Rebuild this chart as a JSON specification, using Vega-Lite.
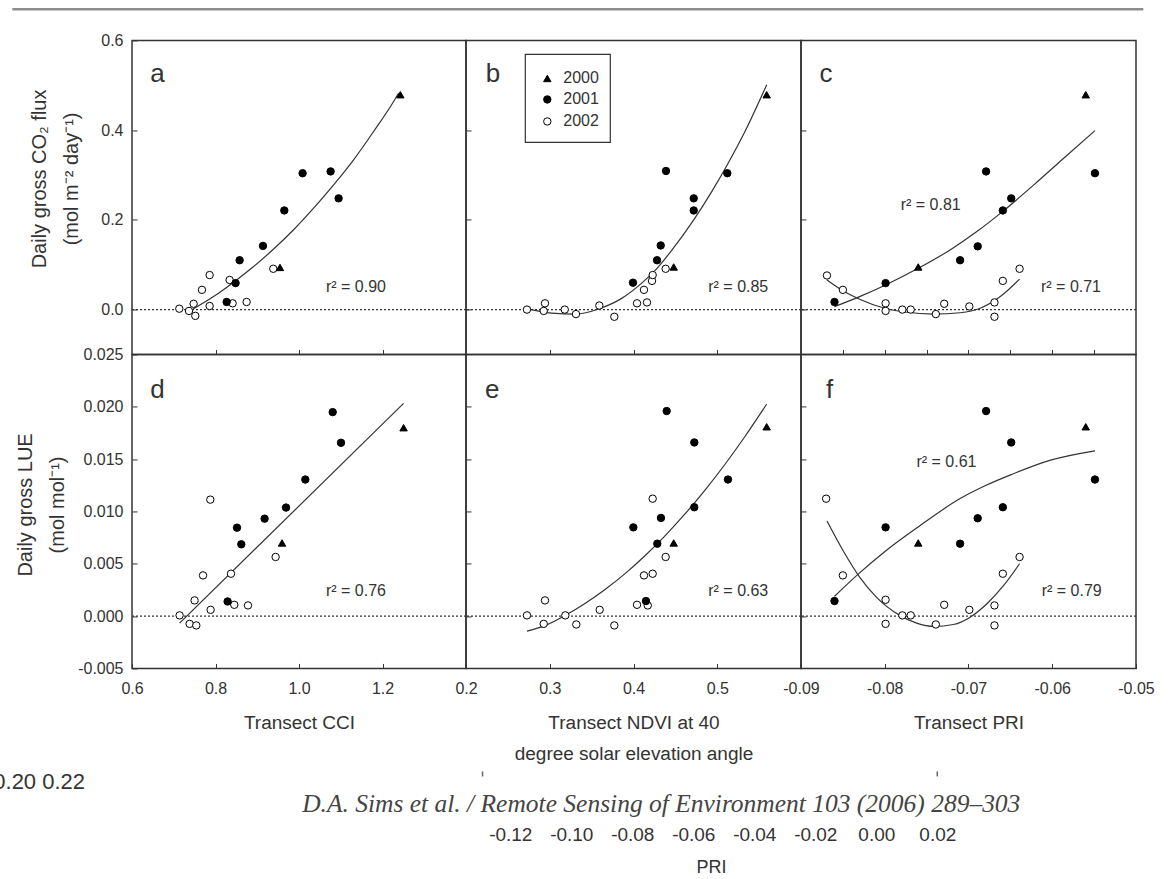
{
  "$schema": "https://vega.github.io/schema/vega-lite/v6.json",
  "background": "white",
  "padding": {"left": -7, "top": 6.45, "right": 0, "bottom": 0},
  "columns": 3,
  "spacing": 0,
  "bounds": "flush",
  "datasets": {
    "pts": [
      {"panel":"a","year":"2002","x":0.9384,"y":0.091},{"panel":"a","year":"2002","x":0.7859,"y":0.077},{"panel":"a","year":"2002","x":0.8338,"y":0.066},{"panel":"a","year":"2002","x":0.7676,"y":0.044},{"panel":"a","year":"2002","x":0.7859,"y":0.008},{"panel":"a","year":"2002","x":0.8410,"y":0.014},{"panel":"a","year":"2002","x":0.8745,"y":0.017},{"panel":"a","year":"2002","x":0.7476,"y":0.013},{"panel":"a","year":"2002","x":0.7133,"y":0.002},{"panel":"a","year":"2002","x":0.7365,"y":-0.003},{"panel":"a","year":"2002","x":0.7516,"y":-0.014},
      {"panel":"a","year":"2001","x":1.0086,"y":0.304},{"panel":"a","year":"2001","x":1.0757,"y":0.308},{"panel":"a","year":"2001","x":1.0949,"y":0.248},{"panel":"a","year":"2001","x":0.9648,"y":0.221},{"panel":"a","year":"2001","x":0.9137,"y":0.142},{"panel":"a","year":"2001","x":0.8578,"y":0.110},{"panel":"a","year":"2001","x":0.8481,"y":0.059},{"panel":"a","year":"2001","x":0.8267,"y":0.017},
      {"panel":"a","year":"2000","x":1.2427,"y":0.479},{"panel":"a","year":"2000","x":0.9544,"y":0.094},

      {"panel":"b","year":"2002","x":0.4384,"y":0.091},{"panel":"b","year":"2002","x":0.4221,"y":0.064},{"panel":"b","year":"2002","x":0.4229,"y":0.077},{"panel":"b","year":"2002","x":0.4125,"y":0.044},{"panel":"b","year":"2002","x":0.4042,"y":0.014},{"panel":"b","year":"2002","x":0.4161,"y":0.016},{"panel":"b","year":"2002","x":0.2728,"y":0.0},{"panel":"b","year":"2002","x":0.2943,"y":0.014},{"panel":"b","year":"2002","x":0.2928,"y":-0.003},{"panel":"b","year":"2002","x":0.3179,"y":0.0},{"panel":"b","year":"2002","x":0.3313,"y":-0.010},{"panel":"b","year":"2002","x":0.3592,"y":0.009},{"panel":"b","year":"2002","x":0.3771,"y":-0.016},
      {"panel":"b","year":"2001","x":0.4388,"y":0.309},{"panel":"b","year":"2001","x":0.5120,"y":0.304},{"panel":"b","year":"2001","x":0.4719,"y":0.248},{"panel":"b","year":"2001","x":0.4719,"y":0.221},{"panel":"b","year":"2001","x":0.4325,"y":0.143},{"panel":"b","year":"2001","x":0.4281,"y":0.110},{"panel":"b","year":"2001","x":0.3994,"y":0.060},
      {"panel":"b","year":"2000","x":0.5590,"y":0.479},{"panel":"b","year":"2000","x":0.4480,"y":0.095},

      {"panel":"c","year":"2002","x":-0.0869,"y":0.076},{"panel":"c","year":"2002","x":-0.0850,"y":0.044},{"panel":"c","year":"2002","x":-0.0799,"y":0.014},{"panel":"c","year":"2002","x":-0.0799,"y":-0.003},{"panel":"c","year":"2002","x":-0.0779,"y":0.0},{"panel":"c","year":"2002","x":-0.0769,"y":0.0},{"panel":"c","year":"2002","x":-0.0739,"y":-0.010},{"panel":"c","year":"2002","x":-0.0729,"y":0.013},{"panel":"c","year":"2002","x":-0.0699,"y":0.007},{"panel":"c","year":"2002","x":-0.0669,"y":0.016},{"panel":"c","year":"2002","x":-0.0669,"y":-0.016},{"panel":"c","year":"2002","x":-0.0659,"y":0.064},{"panel":"c","year":"2002","x":-0.0639,"y":0.091},
      {"panel":"c","year":"2001","x":-0.0679,"y":0.308},{"panel":"c","year":"2001","x":-0.0549,"y":0.304},{"panel":"c","year":"2001","x":-0.0649,"y":0.248},{"panel":"c","year":"2001","x":-0.0659,"y":0.221},{"panel":"c","year":"2001","x":-0.0689,"y":0.141},{"panel":"c","year":"2001","x":-0.0710,"y":0.110},{"panel":"c","year":"2001","x":-0.0799,"y":0.059},{"panel":"c","year":"2001","x":-0.0860,"y":0.017},
      {"panel":"c","year":"2000","x":-0.0560,"y":0.479},{"panel":"c","year":"2000","x":-0.0760,"y":0.095},

      {"panel":"d","year":"2002","x":0.7875,"y":0.01113},{"panel":"d","year":"2002","x":0.9440,"y":0.00565},{"panel":"d","year":"2002","x":0.7701,"y":0.00389},{"panel":"d","year":"2002","x":0.8371,"y":0.00405},{"panel":"d","year":"2002","x":0.7499,"y":0.00150},{"panel":"d","year":"2002","x":0.7883,"y":0.00060},{"panel":"d","year":"2002","x":0.8450,"y":0.00108},{"panel":"d","year":"2002","x":0.8778,"y":0.00102},{"panel":"d","year":"2002","x":0.7140,"y":0.00007},{"panel":"d","year":"2002","x":0.7380,"y":-0.00074},{"panel":"d","year":"2002","x":0.7540,"y":-0.00089},
      {"panel":"d","year":"2001","x":1.0807,"y":0.01949},{"panel":"d","year":"2001","x":1.1006,"y":0.01656},{"panel":"d","year":"2001","x":1.0151,"y":0.01305},{"panel":"d","year":"2001","x":0.9689,"y":0.01037},{"panel":"d","year":"2001","x":0.9176,"y":0.00931},{"panel":"d","year":"2001","x":0.8515,"y":0.00845},{"panel":"d","year":"2001","x":0.8618,"y":0.00686},{"panel":"d","year":"2001","x":0.8290,"y":0.00140},
      {"panel":"d","year":"2000","x":1.2505,"y":0.0180},{"panel":"d","year":"2000","x":0.9593,"y":0.00699},

      {"panel":"e","year":"2002","x":0.4229,"y":0.01122},{"panel":"e","year":"2002","x":0.4384,"y":0.00565},{"panel":"e","year":"2002","x":0.4125,"y":0.00389},{"panel":"e","year":"2002","x":0.4229,"y":0.00405},{"panel":"e","year":"2002","x":0.2943,"y":0.00150},{"panel":"e","year":"2002","x":0.3596,"y":0.00060},{"panel":"e","year":"2002","x":0.4042,"y":0.00108},{"panel":"e","year":"2002","x":0.4170,"y":0.00102},{"panel":"e","year":"2002","x":0.2728,"y":0.00007},{"panel":"e","year":"2002","x":0.3186,"y":0.00007},{"panel":"e","year":"2002","x":0.2928,"y":-0.00074},{"panel":"e","year":"2002","x":0.3317,"y":-0.00080},{"panel":"e","year":"2002","x":0.3771,"y":-0.00089},
      {"panel":"e","year":"2001","x":0.4396,"y":0.01959},{"panel":"e","year":"2001","x":0.4726,"y":0.01659},{"panel":"e","year":"2001","x":0.5128,"y":0.01305},{"panel":"e","year":"2001","x":0.4726,"y":0.01040},{"panel":"e","year":"2001","x":0.4328,"y":0.00938},{"panel":"e","year":"2001","x":0.3998,"y":0.00848},{"panel":"e","year":"2001","x":0.4284,"y":0.00692},{"panel":"e","year":"2001","x":0.4149,"y":0.00144},
      {"panel":"e","year":"2000","x":0.5590,"y":0.01809},{"panel":"e","year":"2000","x":0.4480,"y":0.00699},

      {"panel":"f","year":"2002","x":-0.0870,"y":0.01122},{"panel":"f","year":"2002","x":-0.0639,"y":0.00565},{"panel":"f","year":"2002","x":-0.0659,"y":0.00405},{"panel":"f","year":"2002","x":-0.0850,"y":0.00389},{"panel":"f","year":"2002","x":-0.0799,"y":0.00156},{"panel":"f","year":"2002","x":-0.0729,"y":0.00108},{"panel":"f","year":"2002","x":-0.0669,"y":0.00102},{"panel":"f","year":"2002","x":-0.0699,"y":0.00060},{"panel":"f","year":"2002","x":-0.0779,"y":0.00007},{"panel":"f","year":"2002","x":-0.0769,"y":0.00007},{"panel":"f","year":"2002","x":-0.0799,"y":-0.00074},{"panel":"f","year":"2002","x":-0.0739,"y":-0.00080},{"panel":"f","year":"2002","x":-0.0669,"y":-0.00089},
      {"panel":"f","year":"2001","x":-0.0679,"y":0.01959},{"panel":"f","year":"2001","x":-0.0649,"y":0.01659},{"panel":"f","year":"2001","x":-0.0549,"y":0.01305},{"panel":"f","year":"2001","x":-0.0659,"y":0.01040},{"panel":"f","year":"2001","x":-0.0689,"y":0.00935},{"panel":"f","year":"2001","x":-0.0799,"y":0.00848},{"panel":"f","year":"2001","x":-0.0710,"y":0.00692},{"panel":"f","year":"2001","x":-0.0860,"y":0.00144},
      {"panel":"f","year":"2000","x":-0.0560,"y":0.01809},{"panel":"f","year":"2000","x":-0.0760,"y":0.00699}
    ],
    "fits": [
      {"panel":"a","grp":"all","x":0.7468,"y":0.0016},{"panel":"a","grp":"all","x":0.7955,"y":0.029},{"panel":"a","grp":"all","x":0.8434,"y":0.061},{"panel":"a","grp":"all","x":0.8913,"y":0.096},{"panel":"a","grp":"all","x":0.9392,"y":0.135},{"panel":"a","grp":"all","x":0.9871,"y":0.178},{"panel":"a","grp":"all","x":1.0350,"y":0.226},{"panel":"a","grp":"all","x":1.0829,"y":0.278},{"panel":"a","grp":"all","x":1.1308,"y":0.334},{"panel":"a","grp":"all","x":1.1787,"y":0.397},{"panel":"a","grp":"all","x":1.2266,"y":0.464},{"panel":"a","grp":"all","x":1.2386,"y":0.483},

      {"panel":"b","grp":"all","x":0.2728,"y":0.002},{"panel":"b","grp":"all","x":0.3023,"y":-0.008},{"panel":"b","grp":"all","x":0.3313,"y":-0.010},{"panel":"b","grp":"all","x":0.3592,"y":0.002},{"panel":"b","grp":"all","x":0.3859,"y":0.025},{"panel":"b","grp":"all","x":0.4098,"y":0.059},{"panel":"b","grp":"all","x":0.4281,"y":0.092},{"panel":"b","grp":"all","x":0.4456,"y":0.132},{"panel":"b","grp":"all","x":0.4719,"y":0.200},{"panel":"b","grp":"all","x":0.4934,"y":0.263},{"panel":"b","grp":"all","x":0.5120,"y":0.323},{"panel":"b","grp":"all","x":0.5331,"y":0.397},{"panel":"b","grp":"all","x":0.5590,"y":0.501},

      {"panel":"c","grp":"filled","x":-0.0860,"y":0.0067},{"panel":"c","grp":"filled","x":-0.0830,"y":0.029},{"panel":"c","grp":"filled","x":-0.0799,"y":0.055},{"panel":"c","grp":"filled","x":-0.0760,"y":0.092},{"panel":"c","grp":"filled","x":-0.0722,"y":0.133},{"panel":"c","grp":"filled","x":-0.0690,"y":0.174},{"panel":"c","grp":"filled","x":-0.0659,"y":0.219},{"panel":"c","grp":"filled","x":-0.0622,"y":0.278},{"panel":"c","grp":"filled","x":-0.0586,"y":0.338},{"panel":"c","grp":"filled","x":-0.0549,"y":0.399},
      {"panel":"c","grp":"open","x":-0.0869,"y":0.066},{"panel":"c","grp":"open","x":-0.0850,"y":0.042},{"panel":"c","grp":"open","x":-0.0830,"y":0.023},{"panel":"c","grp":"open","x":-0.0802,"y":0.004},{"panel":"c","grp":"open","x":-0.0774,"y":-0.006},{"panel":"c","grp":"open","x":-0.0742,"y":-0.010},{"panel":"c","grp":"open","x":-0.0710,"y":-0.007},{"panel":"c","grp":"open","x":-0.0686,"y":0.003},{"panel":"c","grp":"open","x":-0.0662,"y":0.029},{"panel":"c","grp":"open","x":-0.0639,"y":0.068},

      {"panel":"d","grp":"all","x":0.7140,"y":-0.00067},{"panel":"d","grp":"all","x":1.2505,"y":0.02032},

      {"panel":"e","grp":"all","x":0.2728,"y":-0.00144},{"panel":"e","grp":"all","x":0.2943,"y":-0.00091},{"panel":"e","grp":"all","x":0.3182,"y":0.00005},{"panel":"e","grp":"all","x":0.3421,"y":0.00120},{"panel":"e","grp":"all","x":0.3660,"y":0.00254},{"panel":"e","grp":"all","x":0.3899,"y":0.00406},{"panel":"e","grp":"all","x":0.4137,"y":0.00577},{"panel":"e","grp":"all","x":0.4376,"y":0.00767},{"panel":"e","grp":"all","x":0.4615,"y":0.00976},{"panel":"e","grp":"all","x":0.4854,"y":0.01204},{"panel":"e","grp":"all","x":0.5093,"y":0.01451},{"panel":"e","grp":"all","x":0.5331,"y":0.01716},{"panel":"e","grp":"all","x":0.5590,"y":0.02025},

      {"panel":"f","grp":"filled","x":-0.0860,"y":0.00189},{"panel":"f","grp":"filled","x":-0.0832,"y":0.00399},{"panel":"f","grp":"filled","x":-0.0799,"y":0.00622},{"panel":"f","grp":"filled","x":-0.0760,"y":0.00852},{"panel":"f","grp":"filled","x":-0.0710,"y":0.01123},{"panel":"f","grp":"filled","x":-0.0679,"y":0.01250},{"panel":"f","grp":"filled","x":-0.0649,"y":0.01352},{"panel":"f","grp":"filled","x":-0.0602,"y":0.01490},{"panel":"f","grp":"filled","x":-0.0549,"y":0.01579},
      {"panel":"f","grp":"open","x":-0.0869,"y":0.00909},{"panel":"f","grp":"open","x":-0.0850,"y":0.00629},{"panel":"f","grp":"open","x":-0.0830,"y":0.00373},{"panel":"f","grp":"open","x":-0.0810,"y":0.00182},{"panel":"f","grp":"open","x":-0.0782,"y":0.00007},{"panel":"f","grp":"open","x":-0.0762,"y":-0.00067},{"panel":"f","grp":"open","x":-0.0742,"y":-0.00099},{"panel":"f","grp":"open","x":-0.0718,"y":-0.00080},{"panel":"f","grp":"open","x":-0.0698,"y":-0.00010},{"panel":"f","grp":"open","x":-0.0678,"y":0.00118},{"panel":"f","grp":"open","x":-0.0658,"y":0.00293},{"panel":"f","grp":"open","x":-0.0639,"y":0.00501}
    ],
    "notes": [
      {"panel":"a","kind":"letter","x":0.6438,"y":0.507,"label":"a"},
      {"panel":"b","kind":"letter","x":0.2235,"y":0.507,"label":"b"},
      {"panel":"c","kind":"letter","x":-0.0878,"y":0.507,"label":"c"},
      {"panel":"d","kind":"letter","x":0.6438,"y":0.0208,"label":"d"},
      {"panel":"e","kind":"letter","x":0.2227,"y":0.0208,"label":"e"},
      {"panel":"f","kind":"letter","x":-0.0870,"y":0.0208,"label":"f"},
      {"panel":"a","kind":"r2","x":1.1365,"y":0.0513,"label":"r² = 0.90"},
      {"panel":"b","kind":"r2","x":0.5251,"y":0.0513,"label":"r² = 0.85"},
      {"panel":"c","kind":"r2","x":-0.07451,"y":0.2335,"label":"r² = 0.81"},
      {"panel":"c","kind":"r2","x":-0.05776,"y":0.0513,"label":"r² = 0.71"},
      {"panel":"d","kind":"r2","x":1.1365,"y":0.00239,"label":"r² = 0.76"},
      {"panel":"e","kind":"r2","x":0.5251,"y":0.00239,"label":"r² = 0.63"},
      {"panel":"f","kind":"r2","x":-0.07263,"y":0.01474,"label":"r² = 0.61"},
      {"panel":"f","kind":"r2","x":-0.05768,"y":0.00239,"label":"r² = 0.79"}
    ],
    "keybox": [{"x": 0.27081, "x2": 0.3723, "y": 0.56879, "y2": 0.37261}],
    "key": [
      {"year": "2000", "x": 0.29708, "lx": 0.31618, "y": 0.51529},
      {"year": "2001", "x": 0.29708, "lx": 0.31618, "y": 0.46847},
      {"year": "2002", "x": 0.29708, "lx": 0.31618, "y": 0.41943}
    ],
    "rim": [{"x": 0.3133, "x2": 3.0223, "y": 0.6698}],
    "frag_text": [{"x": -0.28951, "y": 0.24, "label": "0.20 0.22"}],
    "frag_cite": [{"x": -0.0705, "y": 0.0947, "label": "D.A. Sims et al. / Remote Sensing of Environment 103 (2006) 289–303"}],
    "frag_ticks": [{"cell": "h", "x": -0.1291, "y": 0.3133, "y2": 0.28}, {"cell": "i", "x": 0.0200, "y": 0.3133, "y2": 0.28}]
  },
  "concat": [
    {
      "width": 334, "height": 314,
      "layer": [
        {"data": {"name": "rim"}, "mark": {"type": "rule", "color": "#8c8c8c", "strokeWidth": 2.5},
         "encoding": {"x": {"field": "x", "type": "quantitative"}, "x2": {"field": "x2"}, "y": {"field": "y", "type": "quantitative"}}},
        {"data": {"values": [{}]}, "mark": {"type": "rule", "color": "#333", "strokeWidth": 1.2, "strokeDash": [2, 2]},
         "encoding": {"y": {"datum": 0, "type": "quantitative"}}},
        {"data": {"name": "fits"}, "transform": [{"filter": "datum.panel === 'a'"}],
         "mark": {"type": "line", "color": "#333", "strokeWidth": 1.2, "interpolate": "monotone"},
         "encoding": {"x": {"field": "x", "type": "quantitative"}, "y": {"field": "y", "type": "quantitative"}, "detail": {"field": "grp"}}},
        {"data": {"name": "pts"}, "transform": [{"filter": "datum.panel === 'a'"}],
         "mark": {"type": "point", "filled": true, "stroke": "black", "strokeWidth": 1, "opacity": 1},
         "encoding": {
           "x": {"field": "x", "type": "quantitative", "scale": {"domain": [0.6, 1.4], "nice": false, "zero": false},
                 "axis": {"values": [0.8, 1.0, 1.2], "labels": false, "title": null}},
           "y": {"field": "y", "type": "quantitative", "scale": {"domain": [-0.1, 0.6], "nice": false, "zero": false},
                 "axis": {"values": [0, 0.2, 0.4, 0.6], "format": ".1f", "title": ["Daily gross CO₂ flux", "(mol m⁻² day⁻¹)"],
                          "titleX": -93, "titleY": 138, "titleBaseline": "middle", "titleFontSize": 20, "titleLineHeight": 33}},
           "shape": {"field": "year", "type": "nominal", "legend": null, "scale": {"domain": ["2000", "2001", "2002"], "range": ["triangle-up", "circle", "circle"]}},
           "fill": {"field": "year", "type": "nominal", "legend": null, "scale": {"domain": ["2000", "2001", "2002"], "range": ["black", "black", "white"]}},
           "size": {"field": "year", "type": "ordinal", "legend": null, "scale": {"domain": ["2000", "2001", "2002"], "range": [55, 55, 38]}}
         }},
        {"data": {"name": "notes"}, "transform": [{"filter": "datum.panel === 'a' && datum.kind === 'letter'"}],
         "mark": {"type": "text", "fontSize": 26, "align": "left", "baseline": "alphabetic", "color": "#333"},
         "encoding": {"x": {"field": "x", "type": "quantitative"}, "y": {"field": "y", "type": "quantitative"}, "text": {"field": "label"}}},
        {"data": {"name": "notes"}, "transform": [{"filter": "datum.panel === 'a' && datum.kind === 'r2'"}],
         "mark": {"type": "text", "fontSize": 16, "align": "center", "baseline": "middle", "color": "#333"},
         "encoding": {"x": {"field": "x", "type": "quantitative"}, "y": {"field": "y", "type": "quantitative"}, "text": {"field": "label"}}}
      ]
    },
    {
      "width": 335, "height": 314,
      "layer": [
        {"data": {"values": [{}]}, "mark": {"type": "rule", "color": "#333", "strokeWidth": 1.2, "strokeDash": [2, 2]},
         "encoding": {"y": {"datum": 0, "type": "quantitative"}}},
        {"data": {"name": "fits"}, "transform": [{"filter": "datum.panel === 'b'"}],
         "mark": {"type": "line", "color": "#333", "strokeWidth": 1.2, "interpolate": "monotone"},
         "encoding": {"x": {"field": "x", "type": "quantitative"}, "y": {"field": "y", "type": "quantitative"}, "detail": {"field": "grp"}}},
        {"data": {"name": "pts"}, "transform": [{"filter": "datum.panel === 'b'"}],
         "mark": {"type": "point", "filled": true, "stroke": "black", "strokeWidth": 1, "opacity": 1},
         "encoding": {
           "x": {"field": "x", "type": "quantitative", "scale": {"domain": [0.2, 0.6], "nice": false, "zero": false},
                 "axis": {"values": [0.3, 0.4, 0.5], "labels": false, "title": null}},
           "y": {"field": "y", "type": "quantitative", "scale": {"domain": [-0.1, 0.6], "nice": false, "zero": false},
                 "axis": {"values": [0, 0.2, 0.4], "labels": false, "title": null}},
           "shape": {"field": "year", "type": "nominal", "legend": null, "scale": {"domain": ["2000", "2001", "2002"], "range": ["triangle-up", "circle", "circle"]}},
           "fill": {"field": "year", "type": "nominal", "legend": null, "scale": {"domain": ["2000", "2001", "2002"], "range": ["black", "black", "white"]}},
           "size": {"field": "year", "type": "ordinal", "legend": null, "scale": {"domain": ["2000", "2001", "2002"], "range": [55, 55, 38]}}
         }},
        {"data": {"name": "keybox"}, "mark": {"type": "rect", "fill": "white", "stroke": "#333", "strokeWidth": 1.2},
         "encoding": {"x": {"field": "x", "type": "quantitative"}, "x2": {"field": "x2"}, "y": {"field": "y", "type": "quantitative"}, "y2": {"field": "y2"}}},
        {"data": {"name": "key"}, "mark": {"type": "point", "filled": true, "stroke": "black", "strokeWidth": 1, "opacity": 1},
         "encoding": {
           "x": {"field": "x", "type": "quantitative"}, "y": {"field": "y", "type": "quantitative"},
           "shape": {"field": "year", "type": "nominal", "legend": null}, "fill": {"field": "year", "type": "nominal", "legend": null},
           "size": {"field": "year", "type": "ordinal", "legend": null}
         }},
        {"data": {"name": "key"}, "mark": {"type": "text", "fontSize": 16, "align": "left", "baseline": "middle", "color": "#333"},
         "encoding": {"x": {"field": "lx", "type": "quantitative"}, "y": {"field": "y", "type": "quantitative"}, "text": {"field": "year"}}},
        {"data": {"name": "notes"}, "transform": [{"filter": "datum.panel === 'b' && datum.kind === 'letter'"}],
         "mark": {"type": "text", "fontSize": 26, "align": "left", "baseline": "alphabetic", "color": "#333"},
         "encoding": {"x": {"field": "x", "type": "quantitative"}, "y": {"field": "y", "type": "quantitative"}, "text": {"field": "label"}}},
        {"data": {"name": "notes"}, "transform": [{"filter": "datum.panel === 'b' && datum.kind === 'r2'"}],
         "mark": {"type": "text", "fontSize": 16, "align": "center", "baseline": "middle", "color": "#333"},
         "encoding": {"x": {"field": "x", "type": "quantitative"}, "y": {"field": "y", "type": "quantitative"}, "text": {"field": "label"}}}
      ]
    },
    {
      "width": 335, "height": 314,
      "layer": [
        {"data": {"values": [{}]}, "mark": {"type": "rule", "color": "#333", "strokeWidth": 1.2, "strokeDash": [2, 2]},
         "encoding": {"y": {"datum": 0, "type": "quantitative"}}},
        {"data": {"name": "fits"}, "transform": [{"filter": "datum.panel === 'c'"}],
         "mark": {"type": "line", "color": "#333", "strokeWidth": 1.2, "interpolate": "monotone"},
         "encoding": {"x": {"field": "x", "type": "quantitative"}, "y": {"field": "y", "type": "quantitative"}, "detail": {"field": "grp"}}},
        {"data": {"name": "pts"}, "transform": [{"filter": "datum.panel === 'c'"}],
         "mark": {"type": "point", "filled": true, "stroke": "black", "strokeWidth": 1, "opacity": 1},
         "encoding": {
           "x": {"field": "x", "type": "quantitative", "scale": {"domain": [-0.09, -0.05], "nice": false, "zero": false},
                 "axis": {"values": [-0.085, -0.08, -0.075, -0.07, -0.065, -0.06, -0.055], "labels": false, "title": null}},
           "y": {"field": "y", "type": "quantitative", "scale": {"domain": [-0.1, 0.6], "nice": false, "zero": false},
                 "axis": {"values": [0, 0.2, 0.4], "labels": false, "title": null}},
           "shape": {"field": "year", "type": "nominal", "legend": null, "scale": {"domain": ["2000", "2001", "2002"], "range": ["triangle-up", "circle", "circle"]}},
           "fill": {"field": "year", "type": "nominal", "legend": null, "scale": {"domain": ["2000", "2001", "2002"], "range": ["black", "black", "white"]}},
           "size": {"field": "year", "type": "ordinal", "legend": null, "scale": {"domain": ["2000", "2001", "2002"], "range": [55, 55, 38]}}
         }},
        {"data": {"name": "notes"}, "transform": [{"filter": "datum.panel === 'c' && datum.kind === 'letter'"}],
         "mark": {"type": "text", "fontSize": 26, "align": "left", "baseline": "alphabetic", "color": "#333"},
         "encoding": {"x": {"field": "x", "type": "quantitative"}, "y": {"field": "y", "type": "quantitative"}, "text": {"field": "label"}}},
        {"data": {"name": "notes"}, "transform": [{"filter": "datum.panel === 'c' && datum.kind === 'r2'"}],
         "mark": {"type": "text", "fontSize": 16, "align": "center", "baseline": "middle", "color": "#333"},
         "encoding": {"x": {"field": "x", "type": "quantitative"}, "y": {"field": "y", "type": "quantitative"}, "text": {"field": "label"}}}
      ]
    },
    {
      "width": 334, "height": 314,
      "layer": [
        {"data": {"values": [{}]}, "mark": {"type": "rule", "color": "#333", "strokeWidth": 1.2, "strokeDash": [2, 2]},
         "encoding": {"y": {"datum": 0, "type": "quantitative"}}},
        {"data": {"name": "fits"}, "transform": [{"filter": "datum.panel === 'd'"}],
         "mark": {"type": "line", "color": "#333", "strokeWidth": 1.2},
         "encoding": {"x": {"field": "x", "type": "quantitative"}, "y": {"field": "y", "type": "quantitative"}, "detail": {"field": "grp"}}},
        {"data": {"name": "pts"}, "transform": [{"filter": "datum.panel === 'd'"}],
         "mark": {"type": "point", "filled": true, "stroke": "black", "strokeWidth": 1, "opacity": 1},
         "encoding": {
           "x": {"field": "x", "type": "quantitative", "scale": {"domain": [0.6, 1.4], "nice": false, "zero": false},
                 "axis": {"values": [0.6, 0.8, 1.0, 1.2], "format": ".1f", "title": "Transect CCI", "titleY": 45, "titleBaseline": "top", "titleFontSize": 19}},
           "y": {"field": "y", "type": "quantitative", "scale": {"domain": [-0.005, 0.025], "nice": false, "zero": false},
                 "axis": {"values": [-0.005, 0, 0.005, 0.01, 0.015, 0.02, 0.025], "format": ".3f", "title": ["Daily gross LUE", "(mol mol⁻¹)"],
                          "titleX": -107, "titleY": 150, "titleBaseline": "middle", "titleFontSize": 20, "titleLineHeight": 33}},
           "shape": {"field": "year", "type": "nominal", "legend": null, "scale": {"domain": ["2000", "2001", "2002"], "range": ["triangle-up", "circle", "circle"]}},
           "fill": {"field": "year", "type": "nominal", "legend": null, "scale": {"domain": ["2000", "2001", "2002"], "range": ["black", "black", "white"]}},
           "size": {"field": "year", "type": "ordinal", "legend": null, "scale": {"domain": ["2000", "2001", "2002"], "range": [55, 55, 38]}}
         }},
        {"data": {"name": "notes"}, "transform": [{"filter": "datum.panel === 'd' && datum.kind === 'letter'"}],
         "mark": {"type": "text", "fontSize": 26, "align": "left", "baseline": "alphabetic", "color": "#333"},
         "encoding": {"x": {"field": "x", "type": "quantitative"}, "y": {"field": "y", "type": "quantitative"}, "text": {"field": "label"}}},
        {"data": {"name": "notes"}, "transform": [{"filter": "datum.panel === 'd' && datum.kind === 'r2'"}],
         "mark": {"type": "text", "fontSize": 16, "align": "center", "baseline": "middle", "color": "#333"},
         "encoding": {"x": {"field": "x", "type": "quantitative"}, "y": {"field": "y", "type": "quantitative"}, "text": {"field": "label"}}}
      ]
    },
    {
      "width": 335, "height": 314,
      "layer": [
        {"data": {"values": [{}]}, "mark": {"type": "rule", "color": "#333", "strokeWidth": 1.2, "strokeDash": [2, 2]},
         "encoding": {"y": {"datum": 0, "type": "quantitative"}}},
        {"data": {"name": "fits"}, "transform": [{"filter": "datum.panel === 'e'"}],
         "mark": {"type": "line", "color": "#333", "strokeWidth": 1.2, "interpolate": "monotone"},
         "encoding": {"x": {"field": "x", "type": "quantitative"}, "y": {"field": "y", "type": "quantitative"}, "detail": {"field": "grp"}}},
        {"data": {"name": "pts"}, "transform": [{"filter": "datum.panel === 'e'"}],
         "mark": {"type": "point", "filled": true, "stroke": "black", "strokeWidth": 1, "opacity": 1},
         "encoding": {
           "x": {"field": "x", "type": "quantitative", "scale": {"domain": [0.2, 0.6], "nice": false, "zero": false},
                 "axis": {"values": [0.2, 0.3, 0.4, 0.5], "format": ".1f", "title": ["Transect NDVI at 40", "degree solar elevation angle"], "titleY": 45, "titleBaseline": "top", "titleFontSize": 19, "titleLineHeight": 31}},
           "y": {"field": "y", "type": "quantitative", "scale": {"domain": [-0.005, 0.025], "nice": false, "zero": false},
                 "axis": {"values": [0, 0.005, 0.01, 0.015, 0.02], "labels": false, "title": null}},
           "shape": {"field": "year", "type": "nominal", "legend": null, "scale": {"domain": ["2000", "2001", "2002"], "range": ["triangle-up", "circle", "circle"]}},
           "fill": {"field": "year", "type": "nominal", "legend": null, "scale": {"domain": ["2000", "2001", "2002"], "range": ["black", "black", "white"]}},
           "size": {"field": "year", "type": "ordinal", "legend": null, "scale": {"domain": ["2000", "2001", "2002"], "range": [55, 55, 38]}}
         }},
        {"data": {"name": "notes"}, "transform": [{"filter": "datum.panel === 'e' && datum.kind === 'letter'"}],
         "mark": {"type": "text", "fontSize": 26, "align": "left", "baseline": "alphabetic", "color": "#333"},
         "encoding": {"x": {"field": "x", "type": "quantitative"}, "y": {"field": "y", "type": "quantitative"}, "text": {"field": "label"}}},
        {"data": {"name": "notes"}, "transform": [{"filter": "datum.panel === 'e' && datum.kind === 'r2'"}],
         "mark": {"type": "text", "fontSize": 16, "align": "center", "baseline": "middle", "color": "#333"},
         "encoding": {"x": {"field": "x", "type": "quantitative"}, "y": {"field": "y", "type": "quantitative"}, "text": {"field": "label"}}}
      ]
    },
    {
      "width": 335, "height": 314,
      "layer": [
        {"data": {"values": [{}]}, "mark": {"type": "rule", "color": "#333", "strokeWidth": 1.2, "strokeDash": [2, 2]},
         "encoding": {"y": {"datum": 0, "type": "quantitative"}}},
        {"data": {"name": "fits"}, "transform": [{"filter": "datum.panel === 'f'"}],
         "mark": {"type": "line", "color": "#333", "strokeWidth": 1.2, "interpolate": "monotone"},
         "encoding": {"x": {"field": "x", "type": "quantitative"}, "y": {"field": "y", "type": "quantitative"}, "detail": {"field": "grp"}}},
        {"data": {"name": "pts"}, "transform": [{"filter": "datum.panel === 'f'"}],
         "mark": {"type": "point", "filled": true, "stroke": "black", "strokeWidth": 1, "opacity": 1},
         "encoding": {
           "x": {"field": "x", "type": "quantitative", "scale": {"domain": [-0.09, -0.05], "nice": false, "zero": false},
                 "axis": {"values": [-0.09, -0.08, -0.07, -0.06, -0.05], "format": ".2f", "title": "Transect PRI", "titleY": 45, "titleBaseline": "top", "titleFontSize": 19}},
           "y": {"field": "y", "type": "quantitative", "scale": {"domain": [-0.005, 0.025], "nice": false, "zero": false},
                 "axis": {"values": [0, 0.005, 0.01, 0.015, 0.02], "labels": false, "title": null}},
           "shape": {"field": "year", "type": "nominal", "legend": null, "scale": {"domain": ["2000", "2001", "2002"], "range": ["triangle-up", "circle", "circle"]}},
           "fill": {"field": "year", "type": "nominal", "legend": null, "scale": {"domain": ["2000", "2001", "2002"], "range": ["black", "black", "white"]}},
           "size": {"field": "year", "type": "ordinal", "legend": null, "scale": {"domain": ["2000", "2001", "2002"], "range": [55, 55, 38]}}
         }},
        {"data": {"name": "notes"}, "transform": [{"filter": "datum.panel === 'f' && datum.kind === 'letter'"}],
         "mark": {"type": "text", "fontSize": 26, "align": "left", "baseline": "alphabetic", "color": "#333"},
         "encoding": {"x": {"field": "x", "type": "quantitative"}, "y": {"field": "y", "type": "quantitative"}, "text": {"field": "label"}}},
        {"data": {"name": "notes"}, "transform": [{"filter": "datum.panel === 'f' && datum.kind === 'r2'"}],
         "mark": {"type": "text", "fontSize": 16, "align": "center", "baseline": "middle", "color": "#333"},
         "encoding": {"x": {"field": "x", "type": "quantitative"}, "y": {"field": "y", "type": "quantitative"}, "text": {"field": "label"}}}
      ]
    },
    {
      "width": 334, "height": 150,
      "view": {"stroke": null},
      "data": {"name": "frag_text"},
      "mark": {"type": "text", "align": "left", "baseline": "middle", "fontSize": 22, "color": "#333"},
      "encoding": {
        "x": {"field": "x", "type": "quantitative", "scale": {"domain": [-0.24403, -0.13452], "nice": false, "zero": false}, "axis": null},
        "y": {"field": "y", "type": "quantitative", "scale": {"domain": [0, 1], "nice": false, "zero": false}, "axis": null},
        "text": {"field": "label"}
      }
    },
    {
      "width": 335, "height": 150,
      "view": {"stroke": null},
      "layer": [
        {"data": {"name": "frag_ticks"}, "transform": [{"filter": "datum.cell === 'h'"}],
         "mark": {"type": "rule", "color": "#666", "strokeWidth": 1.5},
         "encoding": {"x": {"field": "x", "type": "quantitative"}, "y": {"field": "y", "type": "quantitative", "axis": null}, "y2": {"field": "y2"}}},
        {"data": {"name": "frag_cite"},
         "mark": {"type": "text", "align": "center", "baseline": "middle", "fontSize": 25.5, "font": "Liberation Serif", "fontStyle": "italic", "color": "#444"},
         "encoding": {
           "x": {"field": "x", "type": "quantitative", "scale": {"domain": [-0.13452, -0.02469], "nice": false, "zero": false},
                 "axis": {"orient": "bottom", "values": [-0.12, -0.1, -0.08, -0.06, -0.04], "format": ".2f", "ticks": false, "tickSize": 0, "labelPadding": 7, "labelFontSize": 19,
                          "title": "PRI", "titleX": 245, "titleY": 40, "titleBaseline": "top", "titleFontSize": 18}},
           "y": {"field": "y", "type": "quantitative", "scale": {"domain": [0, 1], "nice": false, "zero": false}, "axis": null},
           "text": {"field": "label"}
         }}
      ]
    },
    {
      "width": 335, "height": 150,
      "view": {"stroke": null},
      "data": {"name": "frag_ticks"},
      "transform": [{"filter": "datum.cell === 'i'"}],
      "mark": {"type": "rule", "color": "#666", "strokeWidth": 1.5},
      "encoding": {
        "x": {"field": "x", "type": "quantitative", "scale": {"domain": [-0.02469, 0.08515], "nice": false, "zero": false},
              "axis": {"orient": "bottom", "values": [-0.02, 0, 0.02], "format": ".2f", "ticks": false, "tickSize": 0, "labelPadding": 7, "labelFontSize": 19, "title": null}},
        "y": {"field": "y", "type": "quantitative", "scale": {"domain": [0, 1], "nice": false, "zero": false}, "axis": null},
        "y2": {"field": "y2"}
      }
    }
  ],
  "config": {
    "font": "Liberation Sans",
    "locale": {"number": {"decimal": ".", "thousands": ",", "grouping": [3], "currency": ["$", ""], "minus": "-"}},
    "view": {"stroke": "#333", "strokeWidth": 1.5},
    "axis": {"domain": false, "grid": false, "ticks": true, "tickSize": -5, "tickColor": "#333", "tickWidth": 1,
             "labelFont": "Liberation Sans", "labelFontSize": 16, "labelColor": "#333", "labelFlush": false, "labelOverlap": false,
             "titleFont": "Liberation Sans", "titleFontWeight": "normal", "titleColor": "#333", "titleFontSize": 19},
    "axisX": {"labelPadding": 17},
    "axisY": {"labelPadding": 14}
  }
}
